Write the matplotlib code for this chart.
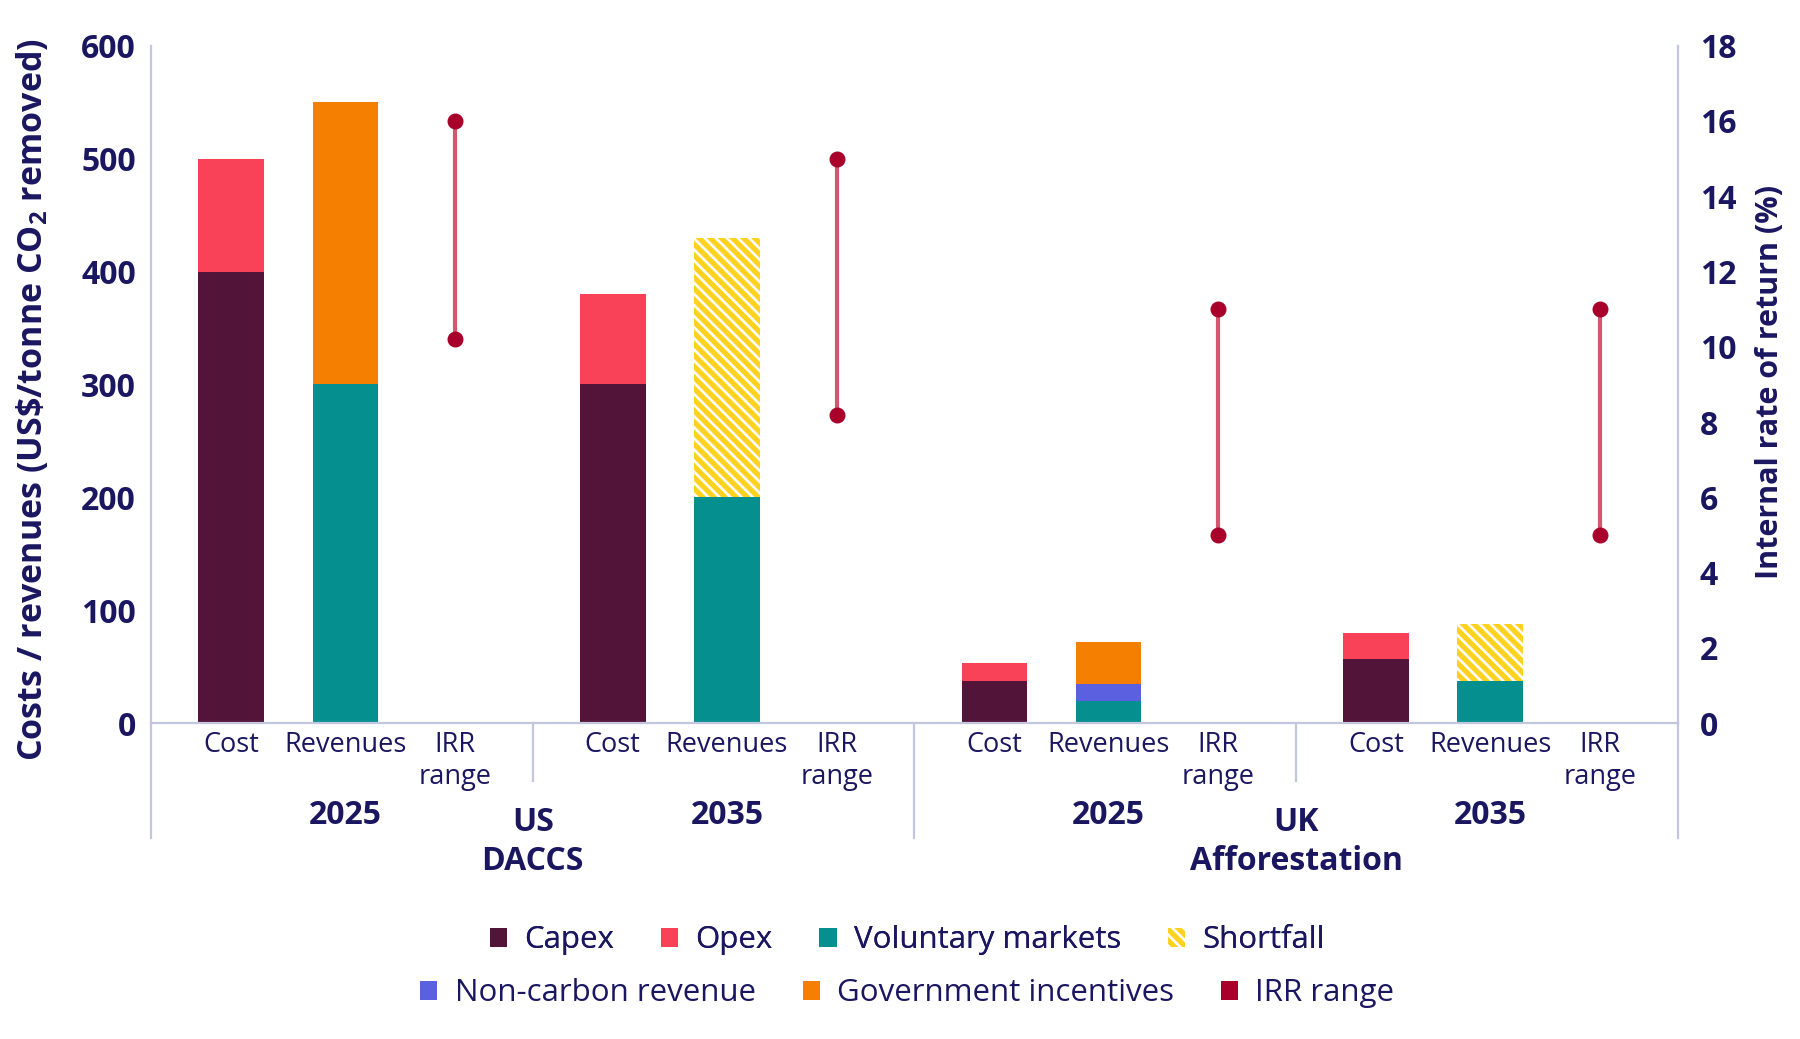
"""Costs, revenues and IRR ranges for US DACCS and UK afforestation."""

import matplotlib

matplotlib.use("Agg")

import matplotlib.pyplot as plt
from matplotlib.patches import Patch

# Colour constants
NAVY = "#1a1660"
AXIS_LINE = "#c3c6df"
CAPEX_COL = "#53143a"
OPEX_COL = "#f94157"
VOLUNTARY_COL = "#058f8f"
SHORTFALL_COL = "#ffd21f"
NONCARBON_COL = "#5b60e0"
GOVT_COL = "#f57f00"
IRR_DOT = "#a8002a"
IRR_LINE = "#d4566f"
FONT = "Open Sans"

# Data
regions = ["US\nDACCS", "UK\nAfforestation"]
years = ["2025", "2035", "2025", "2035"]
slot_labels = ["Cost", "Revenues", "IRR\nrange"]

capex = [400, 300, 37, 57]
opex = [100, 80, 16, 23]
voluntary = [300, 200, 20, 37]
non_carbon = [0, 0, 15, 0]
govt = [250, 0, 37, 0]
shortfall = [0, 230, 0, 51]
irr_low = [10.2, 8.2, 5, 5]
irr_high = [16, 15, 11, 11]

plt.rcParams.update(
    {
        "font.family": [FONT, "DejaVu Sans"],
        "text.color": NAVY,
        "axes.edgecolor": AXIS_LINE,
        "hatch.linewidth": 1.9,
        "mathtext.fontset": "custom",
        "mathtext.bf": FONT + ":bold",
        "mathtext.rm": FONT,
    }
)

fig = plt.figure(figsize=(18, 10.39), dpi=100)
ax = fig.add_axes([0.084, 0.304, 0.848, 0.652])
ax2 = ax.twinx()

GROUP = 3.34
OFFS = [0.70, 1.70, 2.66]
WIDTH = 0.575

cost_x = [g * GROUP + OFFS[0] for g in range(4)]
rev_x = [g * GROUP + OFFS[1] for g in range(4)]
irr_x = [g * GROUP + OFFS[2] for g in range(4)]

# cost bars
ax.bar(cost_x, capex, WIDTH, color=CAPEX_COL, linewidth=0)
ax.bar(cost_x, opex, WIDTH, bottom=capex, color=OPEX_COL, linewidth=0)

# revenue bars
b1 = voluntary
b2 = [a + b for a, b in zip(b1, non_carbon)]
b3 = [a + b for a, b in zip(b2, govt)]
ax.bar(rev_x, voluntary, WIDTH, color=VOLUNTARY_COL, linewidth=0)
ax.bar(rev_x, non_carbon, WIDTH, bottom=b1, color=NONCARBON_COL, linewidth=0)
ax.bar(rev_x, govt, WIDTH, bottom=b2, color=GOVT_COL, linewidth=0)
ax.bar(rev_x, shortfall, WIDTH, bottom=b3, facecolor=SHORTFALL_COL,
       edgecolor="white", hatch="\\" * 3, linewidth=0)

# IRR ranges on the right axis
ax2.vlines(irr_x, irr_low, irr_high, color=IRR_LINE, linewidth=3)
ax2.scatter(irr_x, irr_low, s=110, color=IRR_DOT, zorder=3)
ax2.scatter(irr_x, irr_high, s=110, color=IRR_DOT, zorder=3)

ax.set_xlim(0, 4 * GROUP)
ax.set_ylim(0, 600)
ax2.set_ylim(0, 18)
ax.set_yticks(range(0, 601, 100))
ax2.set_yticks(range(0, 19, 2))
ax.set_xticks([])

for a in (ax, ax2):
    a.spines["top"].set_visible(False)
    a.tick_params(axis="y", length=0, labelsize=23, labelcolor=NAVY)
    for lab in a.get_yticklabels():
        lab.set_fontweight("bold")
    for s in ("left", "right", "bottom"):
        a.spines[s].set_linewidth(1.6)
ax.tick_params(axis="y", pad=11)
ax2.tick_params(axis="y", pad=16)
ax.spines["right"].set_visible(False)
ax2.spines["left"].set_visible(False)
ax2.spines["bottom"].set_visible(False)

ax.set_ylabel(r"Costs / revenues (US\$/tonne CO$_\mathbf{2}$ removed)",
              fontsize=24.5, fontweight="bold", color=NAVY)
ax.yaxis.set_label_coords(-0.066, 0.478)
ax2.set_ylabel("Internal rate of return (%)", fontsize=22,
               fontweight="bold", color=NAVY)
ax2.yaxis.set_label_coords(1.051, 0.503)

# category, year and region labels below the axis
trans = ax.get_xaxis_transform()
for g in range(4):
    for off, lab in zip(OFFS, slot_labels):
        ax.text(g * GROUP + off, -0.012, lab, transform=trans, ha="center",
                va="top", fontsize=19.5, color=NAVY, linespacing=1.2)
    ax.text(g * GROUP + OFFS[1], -0.136, years[g], transform=trans,
            ha="center", va="center", fontsize=23, fontweight="bold")
for r, lab in enumerate(regions):
    ax.text((2 * r + 1) * GROUP, -0.122, lab, transform=trans, ha="center",
            va="top", fontsize=23, fontweight="bold", linespacing=1.25)

# separators
for g in (1, 3):
    ax.plot([g * GROUP] * 2, [0, -0.085], transform=trans, color=AXIS_LINE,
            linewidth=1.6, clip_on=False)
for g in (0, 2, 4):
    ax.plot([g * GROUP] * 2, [0, -0.169], transform=trans, color=AXIS_LINE,
            linewidth=1.6, clip_on=False)

# legend
sq = dict(linewidth=0)
row1 = [
    Patch(facecolor=CAPEX_COL, **sq),
    Patch(facecolor=OPEX_COL, **sq),
    Patch(facecolor=VOLUNTARY_COL, **sq),
    Patch(facecolor=SHORTFALL_COL, edgecolor="white", hatch="\\" * 3, **sq),
]
row2 = [
    Patch(facecolor=NONCARBON_COL, **sq),
    Patch(facecolor=GOVT_COL, **sq),
    Patch(facecolor=IRR_DOT, **sq),
]
leg_kw = dict(frameon=False, fontsize=22.5, handlelength=0.55,
              handleheight=0.55, handletextpad=0.55, labelcolor=NAVY,
              loc="center")
leg1 = fig.legend(row1, ["Capex", "Opex", "Voluntary markets", "Shortfall"],
                  ncol=4, columnspacing=1.5, bbox_to_anchor=(0.504, 0.095),
                  **leg_kw)
fig.legend(row2, ["Non-carbon revenue", "Government incentives", "IRR range"],
           ncol=3, columnspacing=1.5, bbox_to_anchor=(0.504, 0.044), **leg_kw)
fig.add_artist(leg1)

fig.savefig("out.png", dpi=100, facecolor="white")
